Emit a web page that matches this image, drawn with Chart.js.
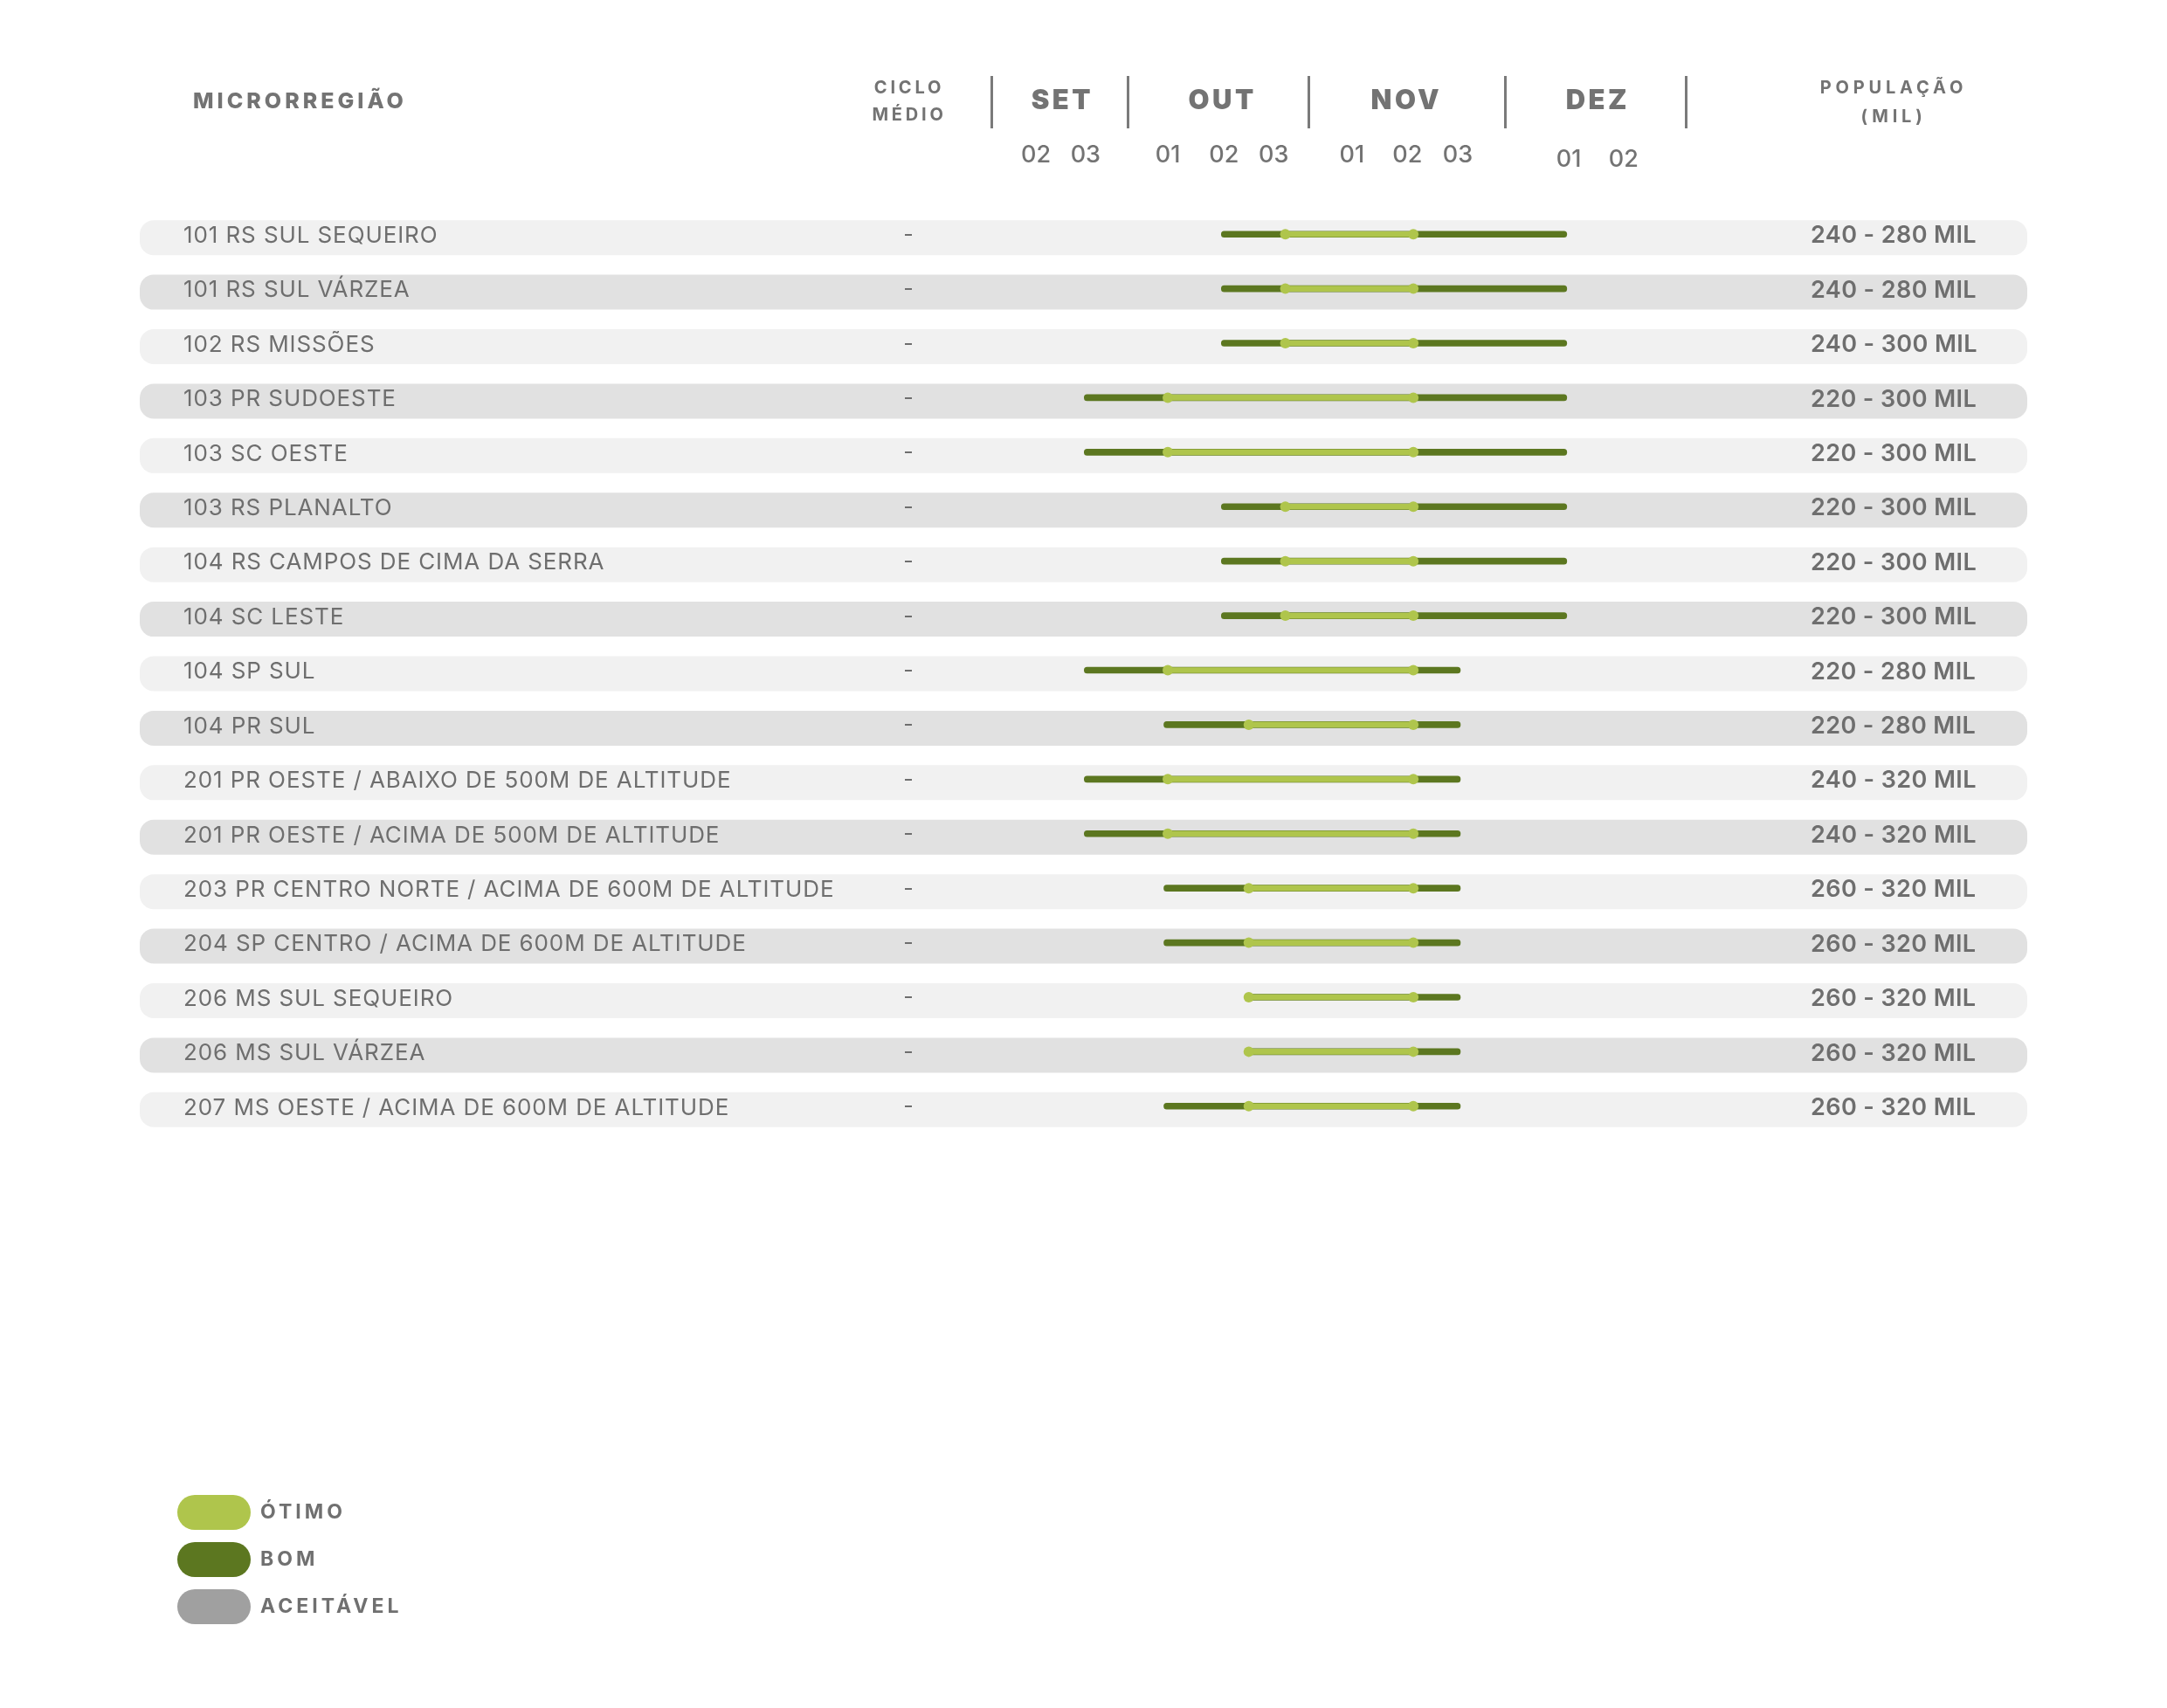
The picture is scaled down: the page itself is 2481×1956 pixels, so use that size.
<!DOCTYPE html>
<html>
<head>
<meta charset="utf-8">
<script src="https://cdn.jsdelivr.net/npm/chart.js@4"></script>
<style>html,body{margin:0;background:#fff;}</style>
</head>
<body>
<canvas id="grafico" width="2481" height="1956"></canvas>
<script>
// linhas da tabela
const microrregioes = [
  "101 RS SUL SEQUEIRO",
  "101 RS SUL VÁRZEA",
  "102 RS MISSÕES",
  "103 PR SUDOESTE",
  "103 SC OESTE",
  "103 RS PLANALTO",
  "104 RS CAMPOS DE CIMA DA SERRA",
  "104 SC LESTE",
  "104 SP SUL",
  "104 PR SUL",
  "201 PR OESTE / ABAIXO DE 500M DE ALTITUDE",
  "201 PR OESTE / ACIMA DE 500M DE ALTITUDE",
  "203 PR CENTRO NORTE / ACIMA DE 600M DE ALTITUDE",
  "204 SP CENTRO / ACIMA DE 600M DE ALTITUDE",
  "206 MS SUL SEQUEIRO",
  "206 MS SUL VÁRZEA",
  "207 MS OESTE / ACIMA DE 600M DE ALTITUDE"
];
const cicloMedio = ["-","-","-","-","-","-","-","-","-","-","-","-","-","-","-","-","-"];
const populacao = [
  "240 - 280 MIL", "240 - 280 MIL", "240 - 300 MIL", "220 - 300 MIL",
  "220 - 300 MIL", "220 - 300 MIL", "220 - 300 MIL", "220 - 300 MIL",
  "220 - 280 MIL", "220 - 280 MIL", "240 - 320 MIL", "240 - 320 MIL",
  "260 - 320 MIL", "260 - 320 MIL", "260 - 320 MIL", "260 - 320 MIL",
  "260 - 320 MIL"
];

// janelas de semeadura, em decêndios (SET 02 = 2 ... DEZ 02 = 11)
const bomInicio   = [4.84, 4.84, 4.84, 2.74, 2.74, 4.84, 4.84, 4.84, 2.74, 3.96, 2.74, 2.74, 3.96, 3.96, 5.26, 5.26, 3.96];
const bomFim      = [10.13, 10.13, 10.13, 10.13, 10.13, 10.13, 10.13, 10.13, 8.5, 8.5, 8.5, 8.5, 8.5, 8.5, 8.5, 8.5, 8.5];
const otimoInicio = [5.82, 5.82, 5.82, 4.02, 4.02, 5.82, 5.82, 5.82, 4.02, 5.26, 4.02, 4.02, 5.26, 5.26, 5.26, 5.26, 5.26];
const otimoFim    = [7.78, 7.78, 7.78, 7.78, 7.78, 7.78, 7.78, 7.78, 7.78, 7.78, 7.78, 7.78, 7.78, 7.78, 7.78, 7.78, 7.78];

// cabeçalho do eixo de tempo
const meses = ["SET", "OUT", "NOV", "DEZ"];
const decendioRotulos = ["02", "03", "01", "02", "03", "01", "02", "03", "01", "02"];
const decendioValores = [2, 2.76, 4.02, 4.88, 5.64, 6.84, 7.69, 8.46, 10.16, 11];
const decendioMes     = [0, 0, 1, 1, 1, 2, 2, 2, 3, 3];
const limitesMes      = [1.32, 3.41, 6.18, 9.18, 11.95];

const CLARO = "#afc54c";
const ESCURO = "#5c7720";
const ACEITAVEL = "#a0a0a0";
const TEXTO = "#6e6e6e";
const FONTE = "Inter, 'DejaVu Sans', sans-serif";

function pilula(ctx, x, y, w, h, r) {
  ctx.beginPath();
  ctx.roundRect(x, y, w, h, r);
  ctx.fill();
}

function texto(ctx, s, x, y, peso, tam, alinh, espaco) {
  ctx.font = `${peso} ${tam}px ${FONTE}`;
  ctx.letterSpacing = (espaco || 0) + "px";
  ctx.textAlign = alinh;
  ctx.textBaseline = "middle";
  ctx.fillText(s, x, y);
}

const tabela = {
  id: "tabela",
  beforeDatasetsDraw(chart) {
    const { ctx, scales: { x, y } } = chart;
    ctx.save();
    // faixas e textos das linhas (as barras ficam um pouco acima do centro da faixa)
    microrregioes.forEach((nome, i) => {
      const yc = y.getPixelForValue(i);
      ctx.fillStyle = i % 2 ? "#e1e1e1" : "#f1f1f1";
      pilula(ctx, 160, yc - 16, 2161, 40, 16);
      ctx.fillStyle = TEXTO;
      texto(ctx, nome, 210, yc + 2, 400, 26, "left", 0.9);
      texto(ctx, cicloMedio[i], 1040, yc + 1, 400, 25, "center");
      texto(ctx, populacao[i], 2073, yc + 2, 600, 27, "left", 0.4);
    });

    // cabeçalho
    ctx.fillStyle = "#737373";
    texto(ctx, "MICRORREGIÃO", 221, 116, 800, 25, "left", 4);
    texto(ctx, "CICLO", 1041, 101, 700, 20, "center", 3.8);
    texto(ctx, "MÉDIO", 1041, 132, 700, 20, "center", 3.8);
    texto(ctx, "POPULAÇÃO", 2168, 101, 700, 20, "center", 4.8);
    texto(ctx, "(MIL)", 2168, 134, 700, 20, "center", 4.8);

    meses.forEach((m, k) => {
      const xs = decendioValores.filter((v, j) => decendioMes[j] === k).map(v => x.getPixelForValue(v));
      const xc = (Math.min(...xs) + Math.max(...xs)) / 2;
      texto(ctx, m, xc + 2, 116, 900, 31, "center", 3.5);
    });
    decendioRotulos.forEach((r, j) => {
      const yy = decendioMes[j] === 3 ? 183 : 178;
      texto(ctx, r, x.getPixelForValue(decendioValores[j]), yy, 500, 27, "center", 0);
    });
    ctx.strokeStyle = "#7a7a7a";
    ctx.lineWidth = 3;
    limitesMes.forEach(v => {
      const px = Math.round(x.getPixelForValue(v)) + 0.5;
      ctx.beginPath();
      ctx.moveTo(px, 87);
      ctx.lineTo(px, 147);
      ctx.stroke();
    });
    ctx.restore();
  },
  afterDatasetsDraw(chart) {
    const { ctx } = chart;
    ctx.save();
    // pontos nas extremidades da janela ótima
    const meta = chart.getDatasetMeta(1);
    ctx.fillStyle = CLARO;
    meta.data.forEach(bar => {
      [bar.base, bar.x].forEach(px => {
        ctx.beginPath();
        ctx.arc(px, bar.y, 6, 0, Math.PI * 2);
        ctx.fill();
      });
    });

    // legenda
    [1, 0, 2].forEach((d, k) => {
      const ds = chart.data.datasets[d];
      const yc = 1732 + k * 54;
      ctx.fillStyle = ds.backgroundColor;
      pilula(ctx, 203, yc - 20, 84, 40, 20);
      ctx.fillStyle = "#707070";
      texto(ctx, ds.label, 298, yc, 700, 23, "left", 4);
    });
    ctx.restore();
  }
};

new Chart(document.getElementById("grafico"), {
  type: "bar",
  data: {
    labels: microrregioes,
    datasets: [
      {
        label: "BOM",
        data: bomInicio.map((v, i) => [v, bomFim[i]]),
        backgroundColor: ESCURO,
        barThickness: 7,
        borderRadius: 3.5,
        borderSkipped: false,
        grouped: false,
        order: 2
      },
      {
        label: "ÓTIMO",
        data: otimoInicio.map((v, i) => [v, otimoFim[i]]),
        backgroundColor: CLARO,
        barThickness: 6,
        grouped: false,
        order: 1
      },
      {
        label: "ACEITÁVEL",
        data: [],
        backgroundColor: ACEITAVEL,
        grouped: false,
        order: 3
      }
    ]
  },
  options: {
    indexAxis: "y",
    responsive: false,
    animation: false,
    devicePixelRatio: 1,
    layout: {
      padding: { left: 1036.5, right: 397.9, top: 237, bottom: 658 }
    },
    scales: {
      x: { type: "linear", min: 0, max: 14, display: false },
      y: { display: false }
    },
    plugins: {
      legend: { display: false },
      tooltip: { enabled: false }
    }
  },
  plugins: [tabela]
});
</script>
</body>
</html>
